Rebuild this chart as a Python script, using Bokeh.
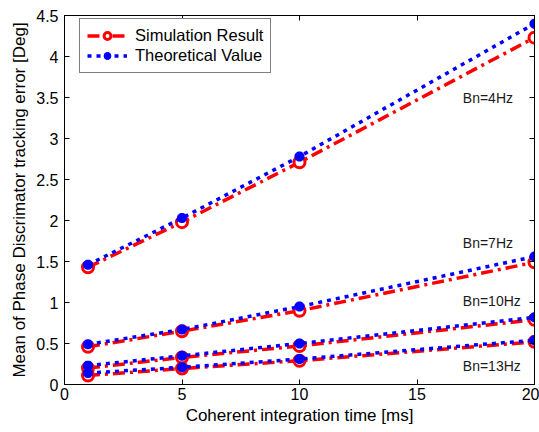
from bokeh.plotting import figure
from bokeh.models import (LinearAxis, FixedTicker, CustomJSTickFormatter, Legend, LegendItem,
                          Range1d, ColumnDataSource, Label)
from bokeh.embed import file_html
from bokeh.resources import INLINE

x_ms = [1, 5, 10, 20]
bn_labels = ["Bn=4Hz", "Bn=7Hz", "Bn=10Hz", "Bn=13Hz"]
sim_4hz = [1.43, 1.98, 2.71, 4.23]
theo_4hz = [1.46, 2.03, 2.78, 4.40]
sim_7hz = [0.46, 0.65, 0.90, 1.49]
theo_7hz = [0.49, 0.67, 0.95, 1.56]
sim_10hz = [0.20, 0.33, 0.47, 0.79]
theo_10hz = [0.23, 0.35, 0.50, 0.82]
sim_13hz = [0.11, 0.195, 0.29, 0.52]
theo_13hz = [0.14, 0.21, 0.31, 0.54]
label_x = [16.95, 16.95, 16.95, 16.95]
label_y = [3.5, 1.72, 1.02, 0.22]
x_ticks = [0, 5, 10, 15, 20]
y_ticks = [0, 0.5, 1, 1.5, 2, 2.5, 3, 3.5, 4, 4.5]

sims = [sim_4hz, sim_7hz, sim_10hz, sim_13hz]
theos = [theo_4hz, theo_7hz, theo_10hz, theo_13hz]

FONT = "Liberation Sans"

p = figure(width=539, height=432, output_backend="svg", toolbar_location=None,
           x_range=Range1d(0, 20), y_range=Range1d(0, 4.5),
           min_border_left=64, min_border_right=5, min_border_top=15, min_border_bottom=48)
p.xgrid.visible = False
p.ygrid.visible = False
p.outline_line_color = "black"
p.outline_line_width = 1
p.background_fill_color = "white"
p.border_fill_color = "white"

fmt = CustomJSTickFormatter(code="return String(Math.round(tick*10)/10)")

for ax in p.xaxis + p.yaxis:
    ax.major_tick_in = 5
    ax.major_tick_out = 0
    ax.minor_tick_line_color = None
    ax.axis_line_color = "black"
    ax.major_label_text_font = FONT
    ax.major_label_text_font_size = "16px"
    ax.major_label_text_color = "black"
    ax.axis_label_text_font = FONT
    ax.axis_label_text_font_size = "17px"
    ax.axis_label_text_font_style = "normal"
    ax.axis_label_text_color = "black"
    ax.formatter = fmt

p.xaxis.ticker = FixedTicker(ticks=x_ticks)
p.yaxis.ticker = FixedTicker(ticks=y_ticks)
p.xaxis.axis_label = "Coherent integration time [ms]"
p.yaxis.axis_label = "Mean of Phase Discrimator tracking error [Deg]"
p.xaxis.major_label_standoff = 3
p.yaxis.major_label_standoff = 6
p.xaxis.axis_label_standoff = 3
p.yaxis.axis_label_standoff = 4

top = LinearAxis(ticker=FixedTicker(ticks=x_ticks), major_tick_in=5, major_tick_out=0,
                 minor_tick_line_color=None, major_label_text_color=None, major_label_text_font_size="0px")
right = LinearAxis(ticker=FixedTicker(ticks=y_ticks), major_tick_in=5, major_tick_out=0,
                   minor_tick_line_color=None, major_label_text_color=None, major_label_text_font_size="0px")
p.add_layout(top, "above")
p.add_layout(right, "right")
p.min_border_top = 15
p.min_border_right = 5

legend_items = []
for i in range(4):
    src_s = ColumnDataSource(dict(x=x_ms, y=sims[i]))
    src_t = ColumnDataSource(dict(x=x_ms, y=theos[i]))
    rl = p.line("x", "y", source=src_s, line_color="red", line_width=3.5, line_dash="12 5 3 5")
    rm = p.scatter("x", "y", source=src_s, marker="circle", size=11, line_color="red",
                   line_width=3, fill_color="white")
    bl = p.line("x", "y", source=src_t, line_color="blue", line_width=3.5, line_dash="4 5")
    bm = p.scatter("x", "y", source=src_t, marker="asterisk", size=10, line_color="blue",
                   line_width=3.5)
    bm2 = p.scatter("x", "y", source=src_t, marker="circle", size=7, line_color="blue",
                    fill_color="blue")
    if i == 0:
        legend_items.append(LegendItem(label="Simulation Result", renderers=[rl, rm]))
        legend_items.append(LegendItem(label="Theoretical Value", renderers=[bl, bm, bm2]))

for lx, ly, txt in zip(label_x, label_y, bn_labels):
    p.add_layout(Label(x=lx, y=ly, text=txt, text_font=FONT, text_font_size="14px",
                       text_baseline="middle", text_align="left", text_color="#1a1a1a"))

legend = Legend(items=legend_items, location=(15, 311))
legend.label_text_font = FONT
legend.label_text_font_size = "16.5px"
legend.label_text_color = "black"
legend.border_line_color = "black"
legend.border_line_width = 1
legend.background_fill_alpha = 1
legend.glyph_width = 40
legend.glyph_height = 17
legend.label_height = 17
legend.spacing = 1
legend.padding = 7
legend.margin = 0
legend.label_standoff = 8
p.add_layout(legend)

open("out.html", "w").write(file_html(p, INLINE))
